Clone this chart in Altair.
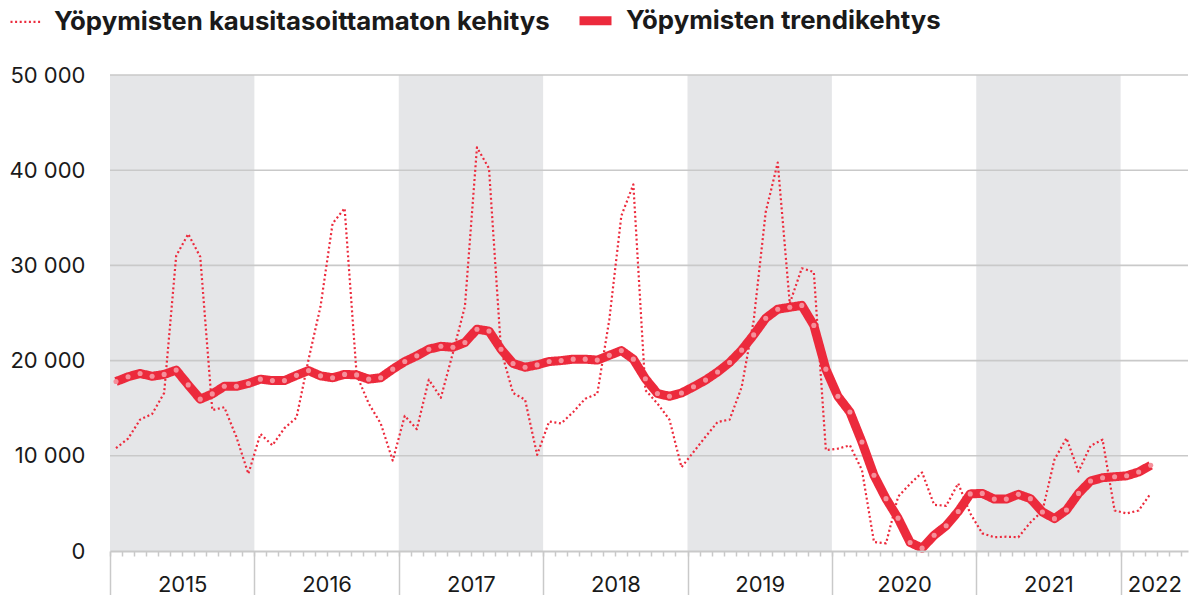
import altair as alt
import pandas as pd

# ---- data (monthly, Jan 2015 .. Mar 2022) ----
year_labels = ["2015", "2016", "2017", "2018", "2019", "2020", "2021", "2022"]
shade_years = [2015, 2017, 2019, 2021]
y_ticks = [0, 10000, 20000, 30000, 40000, 50000]

unadjusted = [
    10800, 11800, 13800, 14400, 16600, 31000, 33300, 30900, 14800, 15100, 12000, 8100,   # 2015
    12300, 11100, 12900, 14000, 20100, 25700, 34400, 36000, 18500, 15500, 13400, 9500,   # 2016
    14200, 12800, 18000, 16100, 20800, 25700, 42400, 40200, 21100, 16600, 15900, 10100,  # 2017
    13600, 13400, 14600, 16000, 16500, 24300, 35200, 38500, 16900, 15500, 13800, 8800,   # 2018
    10400, 12000, 13550, 13800, 17200, 24200, 35600, 40800, 26000, 29700, 29300, 10600,  # 2019
    10750, 11100, 8500, 950, 800, 5700, 7050, 8250, 4850, 4750, 7100, 3950,              # 2020
    1850, 1450, 1500, 1450, 3000, 4200, 9600, 11850, 8350, 11050, 11700, 4250,           # 2021
    3950, 4250, 6050,                                                                   # 2022
]
trend = [
    17800, 18300, 18650, 18350, 18550, 19000, 17450, 15950, 16500, 17300, 17300, 17600,  # 2015
    18050, 17900, 17900, 18450, 18950, 18400, 18200, 18550, 18500, 18050, 18200, 19100,  # 2016
    19900, 20500, 21200, 21500, 21400, 21900, 23300, 23100, 21200, 19700, 19300, 19550,  # 2017
    19900, 20000, 20150, 20150, 20050, 20550, 21050, 20150, 18100, 16550, 16250, 16600,  # 2018
    17250, 17950, 18800, 19800, 21100, 22700, 24450, 25400, 25600, 25800, 23700, 19100,  # 2019
    16250, 14600, 11450, 7950, 5500, 3450, 900, 300, 1650, 2650, 4150, 6000,             # 2020
    6050, 5450, 5450, 5950, 5500, 4100, 3400, 4300, 6050, 7350, 7700, 7800,              # 2021
    7900, 8300, 9000,                                                                   # 2022
]

S1 = "Yöpymisten kausitasoittamaton kehitys"
S2 = "Yöpymisten trendikehtys"

RED = "#EC2A3C"
DOT = "#F5909B"
SHADE = "#E5E6E8"
GRID = "#C9C9C9"
TXT = "#1a1a1a"
FONT = "Inter"

rows = []
for i, v in enumerate(unadjusted):
    rows.append({"m": i + 0.5, "value": v, "series": S1})
for i, v in enumerate(trend):
    rows.append({"m": i + 0.5, "value": v, "series": S2})
df = pd.DataFrame(rows)
trend_df = df[df["series"] == S2]

shade_df = pd.DataFrame({
    "x0": [(y - 2015) * 12 for y in shade_years],
    "x1": [(y - 2015) * 12 + 12 for y in shade_years],
    "y0": [0] * len(shade_years),
    "y1": [50000] * len(shade_years),
})
grid_df = pd.DataFrame({"v": y_ticks[1:]})

xscale = alt.Scale(domain=[0, 89.6], nice=False, zero=False)
yscale = alt.Scale(domain=[0, 50000], nice=False)

yaxis = alt.Axis(values=y_ticks, labelExpr="replace(format(datum.value, ',d'), ',', ' ')",
                 grid=False, domain=False, ticks=False, labelPadding=25, title=None,
                 labelFont=FONT, labelFontSize=22, labelColor=TXT)

axis_minor = alt.Axis(values=list(range(0, 90)), tickSize=5, labels=False, domain=True,
                      domainColor=GRID, domainWidth=2, tickColor=GRID, tickWidth=1.5,
                      grid=False, title=None, orient="bottom", zindex=1)
axis_year_ticks = alt.Axis(values=[12 * k for k in range(len(year_labels))], tickSize=44,
                           labels=False, domain=False, tickColor=GRID, tickWidth=1.5,
                           grid=False, title=None, orient="bottom", zindex=1)
label_pos = [12 * k + 6 for k in range(len(year_labels) - 1)] + [86.8]
arr = "[" + ",".join("'" + s + "'" for s in year_labels) + "]"
axis_year_labels = alt.Axis(values=label_pos, labelExpr=arr + "[floor(datum.value / 12)]",
                            ticks=False, domain=False, grid=False, title=None, orient="bottom",
                            labelPadding=23, labelFont=FONT, labelFontSize=22, labelColor=TXT,
                            labelOverlap=False, labelFlush=False, zindex=1)

legend = alt.Legend(title=None, orient="none", legendX=-101, legendY=-75, direction="horizontal",
                    labelFont=FONT, labelFontSize=25.8, labelFontWeight="bold", labelColor=TXT,
                    symbolSize=1024, symbolType="stroke", labelOffset=10, columnPadding=11,
                    labelLimit=1000, padding=0)

shade = alt.Chart(shade_df).mark_rect(color=SHADE).encode(
    x=alt.X("x0:Q", scale=xscale, axis=axis_minor),
    x2="x1:Q",
    y=alt.Y("y0:Q", scale=yscale, axis=yaxis),
    y2="y1:Q",
)

grid = alt.Chart(grid_df).mark_rule(color=GRID, strokeWidth=1.6).encode(
    y=alt.Y("v:Q", scale=yscale, axis=yaxis),
)

dom = [S1, S2]
lines = alt.Chart(df).mark_line(strokeCap="butt", strokeJoin="round").encode(
    x=alt.X("m:Q", scale=xscale, axis=axis_year_ticks),
    y=alt.Y("value:Q", scale=yscale, axis=yaxis),
    color=alt.Color("series:N", scale=alt.Scale(domain=dom, range=[RED, RED]), legend=legend),
    strokeDash=alt.StrokeDash("series:N", scale=alt.Scale(domain=dom, range=[[2, 2.6], [1, 0]]), legend=legend),
    strokeWidth=alt.StrokeWidth("series:N", scale=alt.Scale(domain=dom, range=[2.2, 9]), legend=legend),
)

pts = alt.Chart(trend_df).mark_circle(color=DOT, size=26, opacity=1).encode(
    x=alt.X("m:Q", scale=xscale, axis=axis_year_labels),
    y=alt.Y("value:Q", scale=yscale, axis=yaxis),
)

chart = alt.layer(shade, grid, lines, pts).resolve_axis(x="independent").properties(
    width=1078, height=476,
    padding={"left": 102, "top": 67, "right": 1, "bottom": 44},
    autosize=alt.AutoSizeParams(type="none"),
).configure_view(stroke=None)

chart.save("out.html", embed_options={"renderer": "svg", "actions": False})
